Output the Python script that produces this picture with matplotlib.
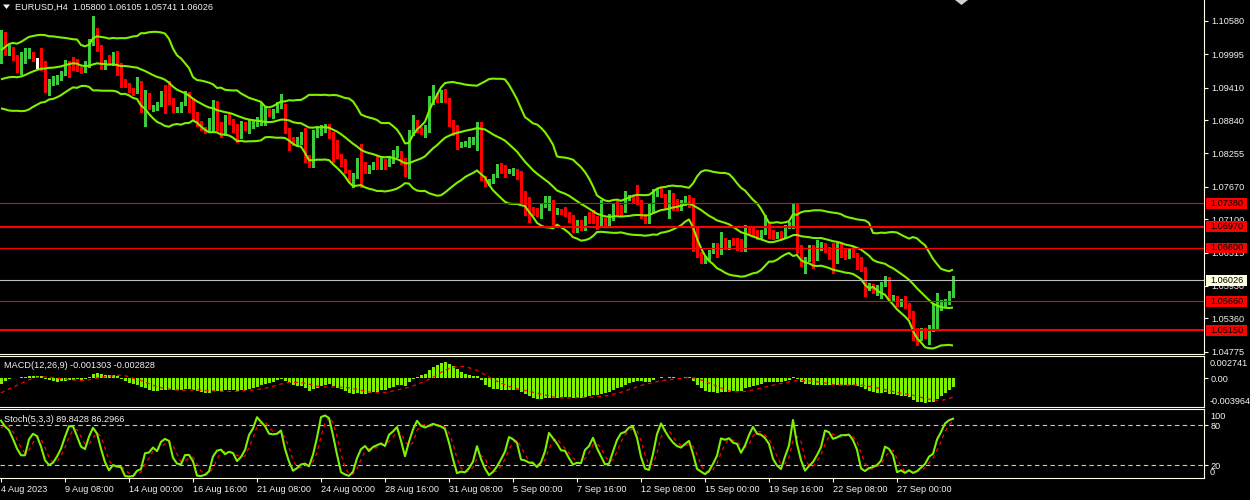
import numpy as np
import pandas as pd
import matplotlib
matplotlib.use("Agg")
import matplotlib.pyplot as plt
from matplotlib.patches import Rectangle, Polygon

# ---------------- data (EURUSD H4, 4 Aug 2023 16:00 .. 29 Sep 2023 08:00) ----------------
symbol_text = "EURUSD,H4  1.05800 1.06105 1.05741 1.06026"
macd_text = "MACD(12,26,9) -0.001303 -0.002828"
stoch_text = "Stoch(5,3,3) 89.8428 86.2966"

closes = [
    1.1033, 1.1001, 1.1007, 1.0995, 1.0974, 1.0995, 1.0999, 1.1003, 1.0990, 1.0990,
    1.0984, 1.0941, 1.0949, 1.0957, 1.0960, 1.0968, 1.0984, 1.0980, 1.0978, 1.0974,
    1.0969, 1.0980, 1.1019, 1.1042, 1.1013, 1.0978, 1.0988, 1.0984, 1.1001, 1.0966,
    1.0945, 1.0944, 1.0935, 1.0932, 1.0946, 1.0904, 1.0928, 1.0906, 1.0908, 1.0911,
    1.0928, 1.0919, 1.0915, 1.0905, 1.0906, 1.0913, 1.0931, 1.0902, 1.0886, 1.0875,
    1.0870, 1.0867, 1.0873, 1.0906, 1.0878, 1.0871, 1.0890, 1.0881, 1.0867, 1.0853,
    1.0877, 1.0868, 1.0881, 1.0884, 1.0887, 1.0899, 1.0902, 1.0893, 1.0901, 1.0909,
    1.0912, 1.0864, 1.0849, 1.0843, 1.0849, 1.0862, 1.0817, 1.0804, 1.0864, 1.0866,
    1.0873, 1.0875, 1.0861, 1.0819, 1.0818, 1.0808, 1.0794, 1.0779, 1.0786, 1.0813,
    1.0795, 1.0793, 1.0804, 1.0809, 1.0799, 1.0811, 1.0805, 1.0819, 1.0825, 1.0826,
    1.0809, 1.0792, 1.0864, 1.0878, 1.0871, 1.0861, 1.0870, 1.0921, 1.0926, 1.0921,
    1.0932, 1.0918, 1.0875, 1.0871, 1.0839, 1.0843, 1.0844, 1.0849, 1.0852, 1.0866,
    1.0782, 1.0770, 1.0779, 1.0788, 1.0798, 1.0794, 1.0793, 1.0796, 1.0797, 1.0791,
    1.0750, 1.0745, 1.0727, 1.0720, 1.0718, 1.0737, 1.0739, 1.0741, 1.0719, 1.0727,
    1.0721, 1.0718, 1.0709, 1.0692, 1.0706, 1.0694, 1.0715, 1.0709, 1.0706, 1.0702,
    1.0706, 1.0698, 1.0708, 1.0735, 1.0726, 1.0724, 1.0750, 1.0752, 1.0743, 1.0738,
    1.0715, 1.0706, 1.0723, 1.0756, 1.0761, 1.0751, 1.0732, 1.0747, 1.0741, 1.0727,
    1.0741, 1.0747, 1.0735, 1.0677, 1.0646, 1.0641, 1.0644, 1.0653, 1.0667, 1.0652,
    1.0674, 1.0661, 1.0671, 1.0669, 1.0663, 1.0657, 1.0692, 1.0690, 1.0688, 1.0678,
    1.0688, 1.0700, 1.0685, 1.0678, 1.0687, 1.0678, 1.0697, 1.0700, 1.0735, 1.0661,
    1.0630, 1.0640, 1.0656, 1.0642, 1.0656, 1.0662, 1.0658, 1.0654, 1.0646, 1.0656,
    1.0653, 1.0643, 1.0656, 1.0647, 1.0626, 1.0621, 1.0589, 1.0593, 1.0585, 1.0593,
    1.0596, 1.0606, 1.0568, 1.0574, 1.0561, 1.0563, 1.0557, 1.0545, 1.0501, 1.0500,
    1.0516, 1.0504, 1.0519, 1.0521, 1.0560, 1.0567, 1.0568, 1.05800, 1.06026,
]
highs = [
    1.1042, 1.1039, 1.1016, 1.1013, 1.0998, 1.1003, 1.1010, 1.1010, 1.1004, 1.0993,
    1.1011, 1.0987, 1.0957, 1.0962, 1.0964, 1.0970, 1.0990, 1.0988, 1.0995, 1.0991,
    1.0978, 1.0987, 1.1026, 1.1066, 1.1046, 1.1016, 1.0990, 1.0998, 1.1004, 1.1005,
    1.0984, 1.0956, 1.0949, 1.0940, 1.0960, 1.0952, 1.0937, 1.0931, 1.0910, 1.0915,
    1.0935, 1.0946, 1.0953, 1.0922, 1.0907, 1.0915, 1.0935, 1.0933, 1.0922, 1.0899,
    1.0883, 1.0872, 1.0887, 1.0919, 1.0918, 1.0881, 1.0893, 1.0894, 1.0886, 1.0877,
    1.0883, 1.0881, 1.0884, 1.0885, 1.0890, 1.0914, 1.0909, 1.0903, 1.0903, 1.0916,
    1.0930, 1.0913, 1.0870, 1.0855, 1.0855, 1.0864, 1.0871, 1.0823, 1.0867, 1.0873,
    1.0875, 1.0877, 1.0877, 1.0863, 1.0849, 1.0825, 1.0815, 1.0796, 1.0791, 1.0817,
    1.0842, 1.0811, 1.0805, 1.0811, 1.0821, 1.0821, 1.0815, 1.0821, 1.0832, 1.0839,
    1.0829, 1.0817, 1.0867, 1.0893, 1.0884, 1.0872, 1.0875, 1.0926, 1.0946, 1.0931,
    1.0937, 1.0938, 1.0922, 1.0884, 1.0875, 1.0846, 1.0847, 1.0855, 1.0855, 1.0881,
    1.0881, 1.0786, 1.0780, 1.0790, 1.0807, 1.0808, 1.0805, 1.0799, 1.0800, 1.0799,
    1.0795, 1.0759, 1.0749, 1.0732, 1.0729, 1.0738, 1.0750, 1.0750, 1.0744, 1.0729,
    1.0728, 1.0732, 1.0723, 1.0717, 1.0709, 1.0709, 1.0716, 1.0723, 1.0727, 1.0716,
    1.0744, 1.0712, 1.0720, 1.0738, 1.0744, 1.0735, 1.0760, 1.0753, 1.0753, 1.0770,
    1.0743, 1.0720, 1.0738, 1.0764, 1.0764, 1.0766, 1.0755, 1.0761, 1.0757, 1.0745,
    1.0744, 1.0750, 1.0753, 1.0747, 1.0697, 1.0653, 1.0646, 1.0656, 1.0669, 1.0669,
    1.0688, 1.0677, 1.0673, 1.0677, 1.0678, 1.0675, 1.0700, 1.0698, 1.0697, 1.0692,
    1.0691, 1.0718, 1.0702, 1.0692, 1.0688, 1.0690, 1.0700, 1.0706, 1.0738, 1.0738,
    1.0665, 1.0643, 1.0665, 1.0665, 1.0674, 1.0671, 1.0668, 1.0662, 1.0669, 1.0668,
    1.0668, 1.0659, 1.0657, 1.0661, 1.0650, 1.0644, 1.0626, 1.0598, 1.0596, 1.0595,
    1.0600, 1.0610, 1.0608, 1.0577, 1.0576, 1.0570, 1.0575, 1.0563, 1.0549, 1.0519,
    1.0519, 1.0519, 1.0525, 1.0563, 1.0580, 1.0568, 1.0570, 1.0585, 1.06105,
]
lows = [
    1.0984, 1.0998, 1.0998, 1.0990, 1.0969, 1.0965, 1.0984, 1.0993, 1.0987, 1.0975,
    1.0972, 1.0934, 1.0928, 1.0946, 1.0948, 1.0954, 1.0964, 1.0960, 1.0972, 1.0970,
    1.0966, 1.0968, 1.0978, 1.1016, 1.1005, 1.0974, 1.0974, 1.0982, 1.0981, 1.0964,
    1.0943, 1.0942, 1.0934, 1.0928, 1.0933, 1.0899, 1.0874, 1.0904, 1.0900, 1.0902,
    1.0908, 1.0896, 1.0913, 1.0899, 1.0899, 1.0899, 1.0911, 1.0899, 1.0885, 1.0873,
    1.0867, 1.0861, 1.0864, 1.0864, 1.0867, 1.0855, 1.0858, 1.0878, 1.0864, 1.0845,
    1.0852, 1.0867, 1.0862, 1.0870, 1.0873, 1.0875, 1.0875, 1.0891, 1.0888, 1.0899,
    1.0905, 1.0862, 1.0832, 1.0840, 1.0842, 1.0843, 1.0811, 1.0802, 1.0801, 1.0855,
    1.0858, 1.0863, 1.0852, 1.0811, 1.0817, 1.0804, 1.0792, 1.0776, 1.0766, 1.0782,
    1.0766, 1.0791, 1.0792, 1.0799, 1.0798, 1.0798, 1.0798, 1.0804, 1.0808, 1.0819,
    1.0807, 1.0786, 1.0782, 1.0858, 1.0863, 1.0859, 1.0855, 1.0864, 1.0913, 1.0916,
    1.0916, 1.0916, 1.0874, 1.0858, 1.0833, 1.0836, 1.0839, 1.0837, 1.0843, 1.0832,
    1.0779, 1.0768, 1.0773, 1.0774, 1.0784, 1.0791, 1.0784, 1.0792, 1.0788, 1.0780,
    1.0741, 1.0718, 1.0706, 1.0717, 1.0715, 1.0713, 1.0732, 1.0726, 1.0702, 1.0719,
    1.0719, 1.0716, 1.0706, 1.0687, 1.0688, 1.0692, 1.0692, 1.0704, 1.0703, 1.0693,
    1.0698, 1.0697, 1.0696, 1.0709, 1.0720, 1.0717, 1.0723, 1.0744, 1.0741, 1.0737,
    1.0712, 1.0704, 1.0704, 1.0721, 1.0750, 1.0749, 1.0729, 1.0712, 1.0727, 1.0726,
    1.0726, 1.0735, 1.0732, 1.0655, 1.0643, 1.0633, 1.0634, 1.0639, 1.0650, 1.0644,
    1.0649, 1.0657, 1.0658, 1.0665, 1.0656, 1.0655, 1.0655, 1.0684, 1.0683, 1.0675,
    1.0677, 1.0684, 1.0677, 1.0675, 1.0677, 1.0677, 1.0677, 1.0694, 1.0694, 1.0650,
    1.0628, 1.0616, 1.0636, 1.0624, 1.0639, 1.0656, 1.0652, 1.0640, 1.0615, 1.0634,
    1.0644, 1.0640, 1.0642, 1.0644, 1.0622, 1.0620, 1.0575, 1.0586, 1.0581, 1.0577,
    1.0571, 1.0593, 1.0567, 1.0566, 1.0557, 1.0557, 1.0554, 1.0536, 1.0499, 1.0489,
    1.0499, 1.0501, 1.0492, 1.0514, 1.0517, 1.0550, 1.0557, 1.0561, 1.05741,
]

# closes before the visible window (indicator warm-up, late Jul .. 4 Aug 12:00)
hist_closes = [
    1.1150, 1.1145, 1.1140, 1.1138, 1.1130, 1.1125, 1.1120, 1.1122, 1.1115, 1.1110,
    1.1105, 1.1100, 1.1098, 1.1095, 1.1090, 1.1085, 1.1088, 1.1080, 1.1075, 1.1070,
    1.1068, 1.1060, 1.1055, 1.1050, 1.1040, 1.1030, 1.1025, 1.1020, 1.1015, 1.1010,
    1.1005, 1.1000, 1.0995, 1.0990, 1.0992, 1.0988, 1.0985, 1.0982, 1.0978,
    1.0960, 1.0975, 1.0982, 1.0985, 1.0970, 1.0950, 1.0935, 1.0930, 1.0938, 1.0940,
    1.0935, 1.0925, 1.0950, 1.0940, 1.0942, 1.0942, 1.0945, 1.0948, 1.0987,
]
hist_highs_tail = [1.0948, 1.0945, 1.0940, 1.0958, 1.0955, 1.0950, 1.0948, 1.0952, 1.0955, 1.0995]
hist_lows_tail = [1.0930, 1.0925, 1.0912, 1.0922, 1.0935, 1.0935, 1.0935, 1.0938, 1.0940, 1.0945]

price_ticks = [1.10580, 1.09995, 1.09410, 1.08840, 1.08255, 1.07670, 1.07100, 1.06515, 1.05930, 1.05360, 1.04775]
level_prices = [1.07380, 1.06970, 1.06600, 1.05660, 1.05150]
current_price = 1.06026

date_labels = ["4 Aug 2023", "9 Aug 08:00", "14 Aug 00:00", "16 Aug 16:00", "21 Aug 08:00",
               "24 Aug 00:00", "28 Aug 16:00", "31 Aug 08:00", "5 Sep 00:00", "7 Sep 16:00",
               "12 Sep 08:00", "15 Sep 00:00", "19 Sep 16:00", "22 Sep 08:00", "27 Sep 00:00"]
date_label_bars = [0, 16, 32, 48, 64, 80, 96, 112, 128, 144, 160, 176, 192, 208, 224]

macd_scale_labels = ["0.002741", "0.00", "-0.003964"]
stoch_scale_labels = ["100", "80", "20", "0"]
stoch_levels = [80, 20]

# ---------------- indicators ----------------
n = len(closes)
opens = [hist_closes[-1]] + closes[:-1]
nh = len(hist_closes)
all_c = pd.Series(hist_closes + closes)
all_h = pd.Series(hist_closes[:nh - len(hist_highs_tail)] + hist_highs_tail + highs)
all_l = pd.Series(hist_closes[:nh - len(hist_lows_tail)] + hist_lows_tail + lows)

mid = all_c.rolling(20).mean()
sd = all_c.rolling(20).std(ddof=0)
bb_mid = mid.values[nh:]
bb_up = (mid + 2 * sd).values[nh:]
bb_lo = (mid - 2 * sd).values[nh:]

ema12 = all_c.ewm(span=12, adjust=False).mean()
ema26 = all_c.ewm(span=26, adjust=False).mean()
macd_main_s = ema12 - ema26
macd_sig_s = macd_main_s.rolling(9).mean()
macd_main = macd_main_s.values[nh:]
macd_sig = macd_sig_s.values[nh:]

ll = all_l.rolling(5).min()
hh = all_h.rolling(5).max()
k = 100 * (all_c - ll).rolling(3).sum() / (hh - ll).rolling(3).sum()
d = k.rolling(3).mean()
stoch_k = k.values[nh:]
stoch_d = d.values[nh:]

# ---------------- drawing ----------------
W, H = 1250, 500
BG = "black"
FG = "#F2F2F2"
AXC = "#FFFCE8"
BULL = "#3CCB3C"
BEAR = "#FF0000"
BAND = "#7FF000"
FONT = "Liberation Sans"
FS = 6.6

plt.rcParams["font.family"] = [FONT, "DejaVu Sans"]

fig = plt.figure(figsize=(W / 100, H / 100), dpi=100, facecolor=BG)


def px_axes(top, bottom):
    return [0, 1 - bottom / H, 1204 / W, (bottom - top) / H]


ax = fig.add_axes(px_axes(0, 354))
axm = fig.add_axes(px_axes(356, 406.7))
axs = fig.add_axes(px_axes(409, 478.3))

xlim = (-0.25, 1204 / 4 - 0.25)
for a in (ax, axm, axs):
    a.set_facecolor(BG)
    a.set_xlim(*xlim)
    for s in a.spines.values():
        s.set_color(AXC)
        s.set_linewidth(0.8)
    a.spines["left"].set_visible(False)
    a.yaxis.tick_right()
    a.tick_params(axis="y", colors=AXC, length=3, width=0.8, labelsize=FS,
                  labelcolor=FG, pad=2, direction="out")
    a.tick_params(axis="x", bottom=False, labelbottom=False)
ax.spines["top"].set_visible(False)

# main price panel
ax.set_ylim(1.1058 - 333 / 5698, 1.1058 + 21 / 5698)
ax.set_yticks(price_ticks)
ax.set_yticklabels([f"{v:.5f}" for v in price_ticks])

x = np.arange(n)
o = np.array(opens)
c = np.array(closes)
hi = np.maximum(np.array(highs), np.maximum(o, c))
lo = np.minimum(np.array(lows), np.minimum(o, c))
colors = np.where(c > o, BULL, np.where(c < o, BEAR, "white"))
ax.vlines(x, lo, hi, colors=colors, linewidth=0.75, zorder=2, antialiased=False)
body_h = np.abs(c - o)
body_h = np.where(body_h < 0.00002, 0.00002, body_h)
ax.bar(x, body_h, bottom=np.minimum(o, c), width=0.75, color=colors, linewidth=0,
       zorder=2, antialiased=False)

for arr in (bb_up, bb_mid, bb_lo):
    ax.plot(x, arr, color=BAND, linewidth=1.5, zorder=3, solid_capstyle="butt")

thick = {1.06970, 1.05150}
for lv in level_prices:
    ax.axhline(lv, color=BEAR, linewidth=1.5 if lv in thick else 0.8, zorder=4)
ax.axhline(current_price, color="#BEBEBE", linewidth=0.8, zorder=4)


# price label boxes on the right scale
def price_box(val, fc, tc):
    ydisp = ax.transData.transform((0, val))[1]
    yf = ydisp / H
    fig.patches.append(Rectangle((1205.5 / W, yf - 5.2 / H), 41.5 / W, 10.4 / H,
                                 transform=fig.transFigure, facecolor=fc,
                                 edgecolor="none", zorder=10))
    fig.text(1226.5 / W, yf, f"{val:.5f}", color=tc, fontsize=FS, ha="center",
             va="center", zorder=11)


for lv in level_prices:
    price_box(lv, BEAR, "black")
price_box(current_price, "#FFFFE0", "black")

# MACD panel
axm.set_ylim(-(406.7 - 378.3) / 6676, (378.3 - 356) / 6676)
axm.bar(x, macd_main, width=0.75, color=BAND, linewidth=0, zorder=2, antialiased=False)
axm.plot(x, macd_sig, color=BEAR, linewidth=0.9, linestyle=(0, (3, 3)), zorder=3)
axm.set_yticks([0.0])
axm.set_yticklabels([macd_scale_labels[1]])
axm.text(1.005, (378.3 - 363) / 6676, macd_scale_labels[0], transform=axm.get_yaxis_transform(),
         color=FG, fontsize=FS, va="center", ha="left", clip_on=False)
axm.text(1.005, (378.3 - 402) / 6676, macd_scale_labels[2], transform=axm.get_yaxis_transform(),
         color=FG, fontsize=FS, va="center", ha="left", clip_on=False)

# Stochastic panel
axs.set_ylim(0, 69.3 / 0.661)
for lv in stoch_levels:
    axs.axhline(lv, color="#C8C8C8", linewidth=0.8, linestyle=(0, (4, 3)), zorder=1)
axs.plot(x, stoch_k, color=BAND, linewidth=1.5, zorder=3)
axs.plot(x, stoch_d, color=BEAR, linewidth=0.9, linestyle=(0, (3, 3)), zorder=2)
axs.set_yticks(stoch_levels)
axs.set_yticklabels(stoch_scale_labels[1:3])
axs.text(1.005, (478.3 - 416.7) / 0.661, stoch_scale_labels[0], transform=axs.get_yaxis_transform(),
         color=FG, fontsize=FS, va="center", ha="left", clip_on=False)
axs.text(1.005, (478.3 - 472.7) / 0.661, stoch_scale_labels[3], transform=axs.get_yaxis_transform(),
         color=FG, fontsize=FS, va="center", ha="left", clip_on=False)

# time axis
axs.set_xticks(date_label_bars)
axs.set_xticklabels(date_labels, ha="left")
axs.tick_params(axis="x", bottom=True, labelbottom=True, colors=AXC, length=3,
                width=0.8, labelsize=FS, labelcolor=FG, pad=2)
for lab in axs.get_xticklabels():
    lab.set_horizontalalignment("left")

# headers
fig.text(15 / W, 1 - 7 / H, symbol_text, color=FG, fontsize=FS, ha="left", va="center")
fig.patches.append(Polygon([(3 / W, 1 - 4.5 / H), (10 / W, 1 - 4.5 / H), (6.5 / W, 1 - 9 / H)],
                           closed=True, transform=fig.transFigure, facecolor=FG, edgecolor="none"))
fig.text(4 / W, 1 - 365 / H, macd_text, color=FG, fontsize=FS, ha="left", va="center")
fig.text(4 / W, 1 - 419 / H, stoch_text, color=FG, fontsize=FS, ha="left", va="center")
fig.patches.append(Polygon([(955 / W, 1.0), (968 / W, 1.0), (961.5 / W, 1 - 5 / H)],
                           closed=True, transform=fig.transFigure, facecolor="#D0D0D0",
                           edgecolor="none"))

fig.savefig("out.png", dpi=100, facecolor=BG)
